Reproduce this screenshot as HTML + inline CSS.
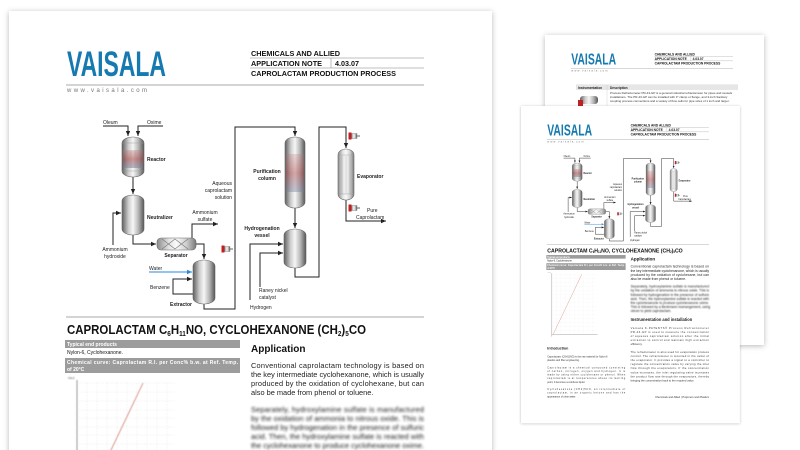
<!DOCTYPE html>
<html><head><meta charset="utf-8"><style>
html,body{margin:0;padding:0;background:#fff;width:800px;height:450px;overflow:hidden}
svg{display:block;font-family:"Liberation Sans",Arial,sans-serif}
</style></head><body>
<svg width="800" height="450" viewBox="0 0 800 450" xmlns="http://www.w3.org/2000/svg">
<defs>
<clipPath id="cm"><rect x="0" y="0" width="800" height="450"/></clipPath>
<linearGradient id="met" x1="0" x2="1" y1="0" y2="0">
<stop offset="0" stop-color="#5e5e5e"/><stop offset=".3" stop-color="#cfcfcf"/><stop offset=".5" stop-color="#f6f6f6"/><stop offset=".75" stop-color="#b5b5b5"/><stop offset="1" stop-color="#555"/>
</linearGradient>
<linearGradient id="met2" x1="0" x2="1" y1="0" y2="0">
<stop offset="0" stop-color="#8a8a8a"/><stop offset=".3" stop-color="#e2e2e2"/><stop offset=".5" stop-color="#fafafa"/><stop offset=".75" stop-color="#d0d0d0"/><stop offset="1" stop-color="#7a7a7a"/>
</linearGradient>
<linearGradient id="tubes" x1="0" x2="0" y1="0" y2="1">
<stop offset="0" stop-color="#c07070" stop-opacity=".3"/><stop offset=".5" stop-color="#b04040" stop-opacity=".55"/><stop offset="1" stop-color="#7080a0" stop-opacity=".5"/>
</linearGradient>
<filter id="sh" x="-10%" y="-10%" width="120%" height="120%"><feDropShadow dx="0" dy="1" stdDeviation="3" flood-color="#000" flood-opacity=".28"/></filter>
<filter id="bl"><feGaussianBlur stdDeviation="1.1"/></filter>
<filter id="bl2"><feGaussianBlur stdDeviation=".5"/></filter>
<marker id="ar" markerWidth="6" markerHeight="6" refX="5" refY="3" orient="auto" markerUnits="userSpaceOnUse"><path d="M0,0.8 L5,3 L0,5.2z" fill="#222"/></marker>
<marker id="arb" markerWidth="6" markerHeight="6" refX="5" refY="3" orient="auto" markerUnits="userSpaceOnUse"><path d="M0,0.8 L5,3 L0,5.2z" fill="#2a8ad8"/></marker>
<g id="sensor"><rect x="0" y="-2.5" width="6" height="5" fill="url(#met)" stroke="#777" stroke-width=".4"/><rect x="-2.5" y="-3.5" width="3" height="7" fill="#c02020"/><line x1="6" y1="0" x2="9" y2="0" stroke="#666"/></g>

<g id="hdr">
<text x="67" y="76" font-size="35" font-weight="bold" fill="#1679b0" textLength="99" lengthAdjust="spacingAndGlyphs">VAISALA</text>
<text x="251" y="56" font-size="7" font-weight="bold" fill="#111" textLength="89" lengthAdjust="spacingAndGlyphs">CHEMICALS AND ALLIED</text>
<line x1="250" y1="58" x2="424" y2="58" stroke="#aaa" stroke-width=".8"/>
<text x="251" y="66" font-size="7" font-weight="bold" fill="#111" textLength="71" lengthAdjust="spacingAndGlyphs">APPLICATION NOTE</text>
<line x1="331" y1="58" x2="331" y2="68" stroke="#aaa" stroke-width=".8"/>
<text x="335" y="66" font-size="7" font-weight="bold" fill="#111" textLength="24" lengthAdjust="spacingAndGlyphs">4.03.07</text>
<line x1="250" y1="68" x2="424" y2="68" stroke="#aaa" stroke-width=".8"/>
<text x="251" y="76" font-size="7" font-weight="bold" fill="#111" textLength="145" lengthAdjust="spacingAndGlyphs">CAPROLACTAM PRODUCTION PROCESS</text>
<line x1="66" y1="85" x2="424" y2="85" stroke="#aaa" stroke-width="1"/>
<text x="67" y="92" font-size="6" fill="#777" textLength="80" lengthAdjust="spacing">www.vaisala.com</text>
</g>

<g id="pg">
<rect x="9" y="11" width="483" height="700" fill="#fff" filter="url(#sh)"/>
<use href="#hdr"/>
<g stroke="#222" stroke-width="1" fill="none">
<path d="M103,126 H128 V136" marker-end="url(#ar)"/>
<path d="M163,126 H138 V136" marker-end="url(#ar)"/>
<path d="M133,177 V194" marker-end="url(#ar)"/>
<path d="M113,245 V213 H121" marker-end="url(#ar)"/>
<path d="M133,235 V244 H156" marker-end="url(#ar)"/>
<path d="M192,238 V224 H218" marker-end="url(#ar)"/>
<path d="M196,244 H204 V259" marker-end="url(#ar)"/>
<path d="M193,294 H173 V279 H192" marker-end="url(#ar)"/>
<path d="M204,300 V309 H235 V127 H295 V136" marker-end="url(#ar)"/>
<path d="M295,208 V228" marker-end="url(#ar)"/>
<path d="M250,300 V244 H283" marker-end="url(#ar)"/>
<path d="M260,287 V253 H283" marker-end="url(#ar)"/>
<path d="M295,268 V277 H319 V127 H346 V148" marker-end="url(#ar)"/>
<path d="M346,200 V221 H386" marker-end="url(#ar)"/>
</g>
<path d="M149,272 H192" stroke="#2a8ad8" stroke-width="1" fill="none" marker-end="url(#arb)"/>
<g stroke="#666" stroke-width=".6">
<rect x="122" y="137" width="22" height="40" rx="11" ry="6" fill="url(#met)"/>
<rect x="123" y="150" width="20" height="18" fill="url(#tubes)" stroke="none"/>
<rect x="122" y="195" width="22" height="40" rx="11" ry="6" fill="url(#met)"/>
<rect x="157" y="238" width="39" height="12" rx="4" fill="url(#met2)"/>
<path d="M162,239 L175,249 L188,239 M162,249 L175,239 L188,249" fill="none" stroke="#777"/>
<rect x="193" y="260" width="22" height="44" rx="11" ry="6" fill="url(#met)"/>
<rect x="285" y="137" width="20" height="71" rx="10" ry="6" fill="url(#met)"/>
<rect x="286" y="154" width="18" height="38" fill="url(#tubes)" stroke="none" opacity=".8"/>
<rect x="284" y="229" width="22" height="39" rx="11" ry="6" fill="url(#met)"/>
<rect x="338" y="149" width="16" height="51" rx="8" ry="6" fill="url(#met2)"/>
</g>
<g stroke="#999" stroke-width=".4">
<line x1="127" y1="151" x2="127" y2="168"/><line x1="131" y1="151" x2="131" y2="168"/><line x1="135" y1="151" x2="135" y2="168"/><line x1="139" y1="151" x2="139" y2="168"/>
<line x1="342" y1="156" x2="342" y2="194"/><line x1="346" y1="156" x2="346" y2="194"/><line x1="350" y1="156" x2="350" y2="194"/>
<line x1="122" y1="143" x2="144" y2="143"/><line x1="122" y1="171" x2="144" y2="171"/>
<line x1="338" y1="155" x2="354" y2="155"/><line x1="338" y1="194" x2="354" y2="194"/>
</g>
<use href="#sensor" transform="translate(224,249)"/>
<use href="#sensor" transform="translate(351,136)"/>
<use href="#sensor" transform="translate(351,208)"/>
<g font-size="5" fill="#222">
<text x="103" y="124">Oleum</text><text x="147" y="124">Oxime</text>
<text x="147" y="161" font-weight="bold">Reactor</text>
<text x="147" y="219" font-weight="bold">Neutralizer</text>
<text x="115" y="251" text-anchor="middle">Ammonium</text><text x="115" y="258" text-anchor="middle">hydroxide</text>
<text x="205" y="214" text-anchor="middle">Ammonium</text><text x="205" y="221" text-anchor="middle">sulfate</text>
<text x="176" y="257" text-anchor="middle" font-weight="bold">Separator</text>
<text x="149" y="270">Water</text><text x="150" y="289">Benzene</text>
<text x="170" y="306" font-weight="bold">Extractor</text>
<text x="232" y="185" text-anchor="end">Aqueous</text><text x="232" y="192" text-anchor="end">caprolactam</text><text x="232" y="199" text-anchor="end">solution</text>
<text x="267" y="173" text-anchor="middle" font-weight="bold">Purification</text><text x="267" y="180" text-anchor="middle" font-weight="bold">column</text>
<text x="262" y="230" text-anchor="middle" font-weight="bold">Hydrogenation</text><text x="262" y="237" text-anchor="middle" font-weight="bold">vessel</text>
<text x="259" y="292">Raney nickel</text><text x="259" y="299">catalyst</text>
<text x="250" y="309">Hydrogen</text>
<text x="357" y="178" font-weight="bold">Evaporator</text>
<text x="367" y="212">Pure</text><text x="356" y="219">Caprolactam</text>
</g>
<line x1="66" y1="317" x2="424" y2="317" stroke="#aaa" stroke-width="1"/>
<text x="67" y="334" font-size="12.5" font-weight="bold" fill="#111" textLength="299" lengthAdjust="spacingAndGlyphs">CAPROLACTAM C<tspan font-size="7" dy="2">6</tspan><tspan dy="-2">H</tspan><tspan font-size="7" dy="2">11</tspan><tspan dy="-2">NO, CYCLOHEXANONE (CH</tspan><tspan font-size="7" dy="2">2</tspan><tspan dy="-2">)</tspan><tspan font-size="7" dy="2">5</tspan><tspan dy="-2">CO</tspan></text>
<rect x="65" y="340" width="175" height="8" fill="#9c9c9c"/>
<text x="67" y="346" font-size="5" font-weight="bold" fill="#fff">Typical end products</text>
<text x="67" y="354" font-size="5" fill="#111">Nylon-6, Cyclohexanone.</text>
<rect x="65" y="358" width="175" height="15" fill="#9c9c9c"/>
<text x="67" y="364" font-size="5" font-weight="bold" fill="#fff" textLength="171" lengthAdjust="spacing">Chemical curve: Caprolactam R.I. per Conc% b.w. at Ref. Temp.</text>
<text x="67" y="371" font-size="5" font-weight="bold" fill="#fff">of 20°C</text>
<g filter="url(#bl2)">
<text x="68" y="379" font-size="2.5" fill="#444">CALC</text>
<line x1="77" y1="380" x2="77" y2="520" stroke="#555" stroke-width=".6"/>
<g stroke="#ddd" stroke-width=".4" stroke-dasharray="1.5,1.5">
<line x1="78" y1="383" x2="175" y2="383"/><line x1="78" y1="392" x2="175" y2="392"/><line x1="78" y1="401" x2="175" y2="401"/><line x1="78" y1="410" x2="175" y2="410"/><line x1="78" y1="418" x2="175" y2="418"/><line x1="78" y1="427" x2="175" y2="427"/><line x1="78" y1="435" x2="175" y2="435"/><line x1="78" y1="444" x2="175" y2="444"/><line x1="78" y1="453" x2="175" y2="453"/><line x1="78" y1="462" x2="175" y2="462"/><line x1="78" y1="471" x2="175" y2="471"/><line x1="78" y1="480" x2="175" y2="480"/><line x1="78" y1="489" x2="175" y2="489"/><line x1="78" y1="498" x2="175" y2="498"/><line x1="78" y1="507" x2="175" y2="507"/>
<line x1="87" y1="383" x2="87" y2="515"/><line x1="97" y1="383" x2="97" y2="515"/><line x1="107" y1="383" x2="107" y2="515"/><line x1="117" y1="383" x2="117" y2="515"/><line x1="127" y1="383" x2="127" y2="515"/><line x1="137" y1="383" x2="137" y2="515"/><line x1="147" y1="383" x2="147" y2="515"/><line x1="157" y1="383" x2="157" y2="515"/><line x1="167" y1="383" x2="167" y2="515"/>
</g>
<line x1="77" y1="515" x2="178" y2="515" stroke="#555" stroke-width=".6"/>
<line x1="80" y1="515" x2="143" y2="383" stroke="#d08070" stroke-width=".8"/>
</g>
<text x="67" y="548" font-size="8" font-weight="bold" fill="#222">Introduction</text>
<g font-size="5.4" fill="#333">
<text x="67" y="566">Caprolactam (C6H11NO) is the raw material for Nylon-6</text>
<text x="67" y="574">plastics and fiber engineering.</text>
<text x="67" y="590" textLength="172" lengthAdjust="spacing">Caprolactam is a chemical compound consisting</text>
<text x="67" y="598" textLength="172" lengthAdjust="spacing">of carbon, nitrogen, oxygen and hydrogen. It is</text>
<text x="67" y="606" textLength="172" lengthAdjust="spacing">made by using either cyclohexane or phenol. When</text>
<text x="67" y="614" textLength="172" lengthAdjust="spacing">caprolactam is at temperatures above its melting</text>
<text x="67" y="622">point, it becomes a colorless liquid.</text>
<text x="67" y="638" textLength="172" lengthAdjust="spacing">Cyclohexanone (CH2)5CO, an intermediate of</text>
<text x="67" y="646" textLength="172" lengthAdjust="spacing">caprolactam, is an organic ketone and has the</text>
<text x="67" y="654">appearance of clear water.</text>
</g>
<text x="251" y="352" font-size="10" font-weight="bold" fill="#111">Application</text>
<g font-size="7.4" fill="#222">
<text x="251" y="368" textLength="173" lengthAdjust="spacing">Conventional caprolactam technology is based on</text>
<text x="251" y="377" textLength="173" lengthAdjust="spacing">the key intermediate cyclohexanone, which is usually</text>
<text x="251" y="386" textLength="173" lengthAdjust="spacing">produced by the oxidation of cyclohexane, but can</text>
<text x="251" y="395">also be made from phenol or toluene.</text>
</g>
<g font-size="7.4" fill="#222" filter="url(#bl)">
<text x="251" y="412" textLength="173" lengthAdjust="spacing">Separately, hydroxylamine sulfate is manufactured</text>
<text x="251" y="421" textLength="173" lengthAdjust="spacing">by the oxidation of ammonia to nitrous oxide. This is</text>
<text x="251" y="430" textLength="173" lengthAdjust="spacing">followed by hydrogenation in the presence of sulfuric</text>
<text x="251" y="439" textLength="173" lengthAdjust="spacing">acid. Then, the hydroxylamine sulfate is reacted with</text>
<text x="251" y="448" textLength="173" lengthAdjust="spacing">the cyclohexanone to produce cyclohexanone oxime.</text>
<text x="251" y="457">This is followed by a Beckmann rearrangement, using</text>
<text x="251" y="466">oleum to yield caprolactam.</text>
</g>
<text x="251" y="486" font-size="9" font-weight="bold" fill="#222">Instrumentation and installation</text>
<g font-size="6" fill="#333">
<text x="251" y="503" textLength="173" lengthAdjust="spacing">Vaisala K-PATENTS® Process Refractometer</text>
<text x="251" y="512" textLength="173" lengthAdjust="spacing">PR-43-GP is used to measure the concentration</text>
<text x="251" y="521" textLength="173" lengthAdjust="spacing">of aqueous caprolactam solution after the initial</text>
<text x="251" y="530" textLength="173" lengthAdjust="spacing">extraction to control and maintain high extraction</text>
<text x="251" y="539">efficiency.</text>
<text x="251" y="556" textLength="173" lengthAdjust="spacing">The refractometer is also used for evaporation process</text>
<text x="251" y="565" textLength="173" lengthAdjust="spacing">control. The refractometer is mounted in the outlet of</text>
<text x="251" y="574" textLength="173" lengthAdjust="spacing">the evaporator. It provides a signal to a controller to</text>
<text x="251" y="583" textLength="173" lengthAdjust="spacing">regulate the concentration value by varying the inlet</text>
<text x="251" y="592" textLength="173" lengthAdjust="spacing">flow through the evaporators. If the concentration</text>
<text x="251" y="601" textLength="173" lengthAdjust="spacing">value increases, the inlet regulating valve increases</text>
<text x="251" y="610" textLength="173" lengthAdjust="spacing">the product flow rate through the evaporators, thereby</text>
<text x="251" y="619">bringing the concentration back to the required value.</text>
<text x="424" y="656" text-anchor="end">Chemicals and Allied | Polymers and Plastics</text>
</g>
</g>
</defs>

<!-- back page -->
<rect x="545" y="35" width="219" height="310" fill="#fff" filter="url(#sh)"/>
<use href="#hdr" transform="translate(545,35) scale(.453) translate(-9,-11)"/>
<g>
<line x1="576" y1="85" x2="738" y2="85" stroke="#bbb" stroke-width=".6"/>
<rect x="576" y="85" width="162" height="5" fill="#e6e6e6"/>
<text x="578" y="89" font-size="3.2" font-weight="bold" fill="#222">Instrumentation</text>
<text x="610" y="89" font-size="3.2" font-weight="bold" fill="#222">Description</text>
<line x1="607" y1="85" x2="607" y2="110" stroke="#ccc" stroke-width=".4"/>
<text x="610" y="94" font-size="3" fill="#333">Process Refractometer PR-43-GP is a general industrial refractometer for pipes and vessels</text>
<text x="610" y="98" font-size="3" fill="#333">installations. The PR-43-GP can be installed with 3" clamp or flange, and 3-inch Sanitary</text>
<text x="610" y="102" font-size="3" fill="#333">coupling process connections and a variety of flow cells for pipe sizes of 1 inch and larger.</text>
<rect x="580" y="96" width="18" height="8" rx="3" fill="url(#met)"/><rect x="578" y="100" width="5" height="6" fill="#c02020"/>
</g>

<!-- main page -->
<g clip-path="url(#cm)"><use href="#pg"/></g>

<!-- front small page -->
<g transform="translate(521,106) scale(.453) translate(-9,-11)">
<use href="#pg"/>
</g>
</svg>
</body></html>
